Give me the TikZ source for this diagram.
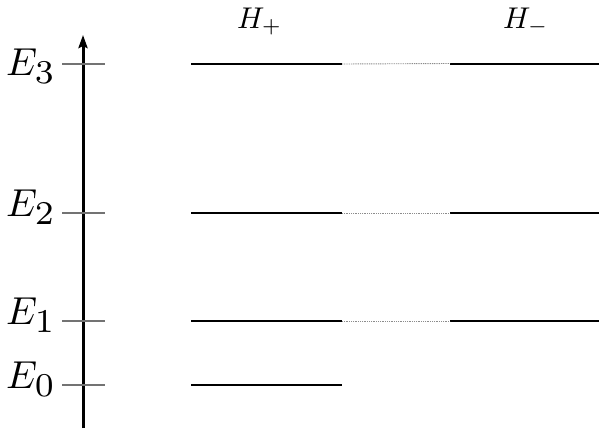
\documentclass[tikz,border=0pt]{standalone}
\usepackage{graphicx}
\usetikzlibrary{arrows.meta}
\newcommand{\biglab}[1]{\scalebox{3.9}{$E_{\scalebox{1.22}{$\scriptstyle #1$}}$}}
\newcommand{\smalllab}[1]{\scalebox{3.0}{$#1$}}
\begin{document}
\begin{tikzpicture}[x=1pt,y=-1pt,
  level/.style={line width=2pt,black},
  tick/.style={line width=1.3pt,black!55},
  link/.style={line width=0.9pt,black!45,dash pattern=on 1pt off 0.8pt},
  elab/.style={anchor=base west,inner sep=0pt},
  hlab/.style={anchor=base west,inner sep=0pt}]
\useasboundingbox (0,0) rectangle (599,429);
% axis
\coordinate (ax0) at (83,428);
\coordinate (ax1) at (83,35);
\draw[line width=3pt,-{Stealth[length=13pt,width=9pt,inset=2pt]}] (ax0) -- (ax1);
% ticks and labels
\foreach \n/\y/\b in {3/64/75.5,2/213/216,1/321/324.5,0/385/388.5}{
  \coordinate (tl\n) at (62,\y);
  \coordinate (tr\n) at (105,\y);
  \draw[tick] (tl\n) -- (tr\n);
  \node[elab] (E\n) at (6,\b) {\biglab{\n}};
}
% H labels
\node[hlab] (Hp) at (237,28) {\smalllab{H_+}};
\node[hlab] (Hm) at (503,28) {\smalllab{H_-}};
% left levels
\foreach \n/\y in {3/64,2/213,1/321,0/385}{
  \coordinate (pl\n) at (191,\y);
  \coordinate (pr\n) at (342,\y);
  \draw[level] (pl\n) -- (pr\n);
}
% right levels and links
\foreach \n/\y in {3/63.5,2/213,1/321}{
  \coordinate (ml\n) at (450,\y);
  \coordinate (mr\n) at (599,\y);
  \draw[level] (ml\n) -- (mr\n);
  \draw[link] (pr\n) -- (ml\n);
}
\end{tikzpicture}
\end{document}
